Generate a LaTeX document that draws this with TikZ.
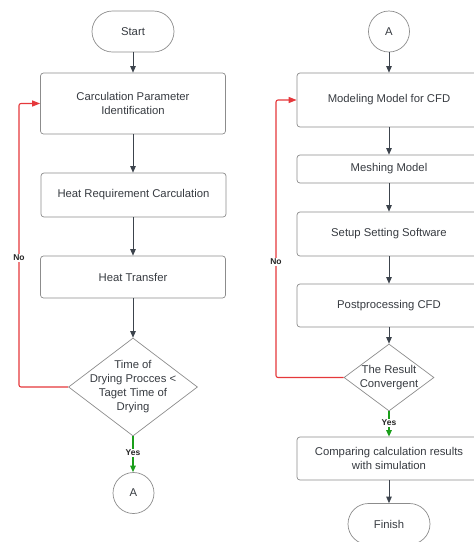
\documentclass[tikz,border=0pt]{standalone}
\usepackage{fontspec}
\setmainfont{Liberation Sans}
\usetikzlibrary{arrows.meta,shapes.geometric}
\definecolor{boxgrey}{HTML}{8C8C8C}
\definecolor{arrgrey}{HTML}{3C434C}
\definecolor{txtgrey}{HTML}{363A40}
\definecolor{nored}{HTML}{E5383B}
\definecolor{yesgreen}{HTML}{1A9E1A}
\tikzset{
    procbox/.style={draw=boxgrey, line width=0.7pt, rounded corners=3pt, align=center, text=txtgrey, font=\fontsize{11.3}{13.5}\selectfont, inner sep=0pt},
    termbox/.style={procbox, rounded corners=20.5pt, minimum width=82pt, minimum height=41pt},
    connbox/.style={procbox, circle, rounded corners=0pt, minimum size=41pt},
    decbox/.style={draw=boxgrey, line width=0.7pt, diamond, inner sep=0pt},
    dectext/.style={align=center, text=txtgrey, font=\fontsize{11.3}{14}\selectfont},
    flow/.style={draw=arrgrey, line width=0.7pt, -{Triangle[width=5.5pt,length=6.5pt]}},
    nopath/.style={draw=nored, line width=1.1pt, rounded corners=2pt, -{Triangle[width=6pt,length=8pt]}},
    yespath/.style={draw=yesgreen, line width=1.1pt, -{Triangle[width=5.5pt,length=6.5pt]}},
    anslabel/.style={fill=white, inner sep=1pt, text=black!85, font=\fontsize{8.5}{10}\bfseries\selectfont}
}
\begin{document}
\begin{tikzpicture}[x=1pt,y=-1pt]
    \useasboundingbox (0,0) rectangle (474,542);
    \node[termbox] (start) at (133,31.5) {Start};
    \node[procbox, minimum width=185pt, minimum height=61pt] (param) at (133,103.5) {Carculation Parameter\\Identification};
    \node[procbox, minimum width=185pt, minimum height=44pt] (heatreq) at (133.5,195) {Heat Requirement Carculation};
    \node[procbox, minimum width=185pt, minimum height=42pt] (transfer) at (133,277) {Heat Transfer};
    \node[decbox, minimum width=129pt, minimum height=98pt,
        label={[dectext]center:Time of\\Drying Procces <\\Taget Time of\\Drying}] (drytime) at (133,387) {};
    \node[connbox] (outa) at (133.5,493) {A};
    \coordinate (leftturn) at (19,387);
    \draw[flow] (start) -- (param);
    \draw[flow] (param) -- (param |- heatreq.north);
    \draw[flow] (param |- heatreq.south) -- (param |- transfer.north);
    \draw[flow] (transfer) -- (drytime);
    \draw[nopath] (drytime.west) -- (leftturn) |- (param.west);
    \node[anslabel] (leftno) at (19,258) {No};
    \draw[yespath] (drytime.south) -- (drytime.south |- outa.north);
    \node[anslabel] (leftyes) at (133,453) {Yes};

    \node[connbox] (ina) at (389,31.5) {A};
    \node[procbox, minimum width=184pt, minimum height=54pt] (modeling) at (389,100) {Modeling Model for CFD};
    \node[procbox, minimum width=184pt, minimum height=28pt] (meshing) at (389,169) {Meshing Model};
    \node[procbox, minimum width=184pt, minimum height=44pt] (setup) at (389,234) {Setup Setting Software};
    \node[procbox, minimum width=184pt, minimum height=43pt] (postproc) at (389,305.5) {Postprocessing CFD};
    \node[decbox, minimum width=90pt, minimum height=67pt,
        label={[dectext]center:The Result\\Convergent}] (converge) at (389,377.5) {};
    \node[procbox, minimum width=184pt, minimum height=43pt] (compare) at (389,458.5) {Comparing calculation results\\with simulation};
    \node[termbox] (finish) at (389,524) {Finish};
    \coordinate (rightturn) at (276,377.5);
    \draw[flow] (ina) -- (modeling);
    \draw[flow] (modeling) -- (meshing);
    \draw[flow] (meshing) -- (setup);
    \draw[flow] (setup) -- (postproc);
    \draw[flow] (postproc) -- (converge);
    \draw[nopath] (converge.west) -- (rightturn) |- (modeling.west);
    \node[anslabel] (rightno) at (276,262) {No};
    \draw[yespath] (converge.south) -- (compare);
    \node[anslabel] (rightyes) at (389,423) {Yes};
    \draw[flow] (compare) -- (finish);
\end{tikzpicture}
\end{document}
